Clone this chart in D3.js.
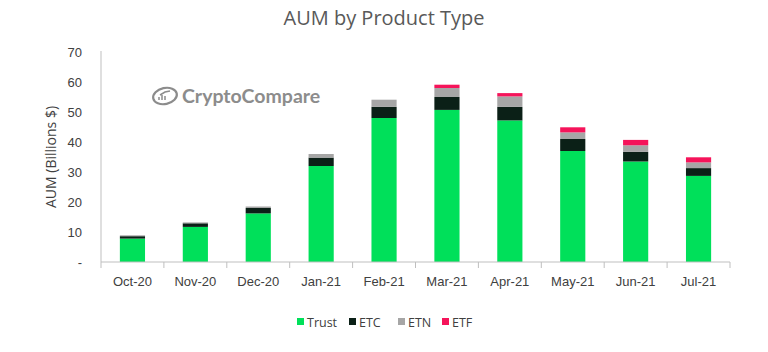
<!DOCTYPE html>
<style>
  body { margin: 0; background: #fff; font-family: "Open Sans", "Noto Sans", sans-serif; }
  svg { display: block; }
  .title { fill: #595959; font-size: 20px; }
  .tick text { fill: #404040; font-size: 13px; }
  .legend text { fill: #404040; font-size: 12.5px; }
  .ylabel { fill: #404040; font-size: 14px; }
</style>
<body>
</body>
<script src="https://cdn.jsdelivr.net/npm/d3@7"></script>
<script>
  const w = 768, h = 352;
  const l = 101, r = 730, t = 52, b = 262;

  const months = ['Oct-20', 'Nov-20', 'Dec-20', 'Jan-21', 'Feb-21', 'Mar-21', 'Apr-21', 'May-21', 'Jun-21', 'Jul-21'];
  const trust = [7.8, 11.7, 16.2, 32.0, 48.0, 50.7, 47.2, 37.0, 33.5, 28.7];
  const etc = [0.8, 1.2, 1.8, 2.8, 3.7, 4.3, 4.5, 4.0, 3.2, 2.6];
  const etn = [0.3, 0.3, 0.5, 1.2, 2.4, 3.0, 3.5, 2.2, 2.2, 1.9];
  const etf = [0, 0, 0, 0, 0, 1.1, 1.1, 1.7, 1.8, 1.7];
  const series = ['Trust', 'ETC', 'ETN', 'ETF'];
  const colors = ['#00e05a', '#0b2017', '#a6a6a6', '#f5145a'];
  const yTicks = [0, 10, 20, 30, 40, 50, 60, 70];

  const rows = months.map((m, i) => ({month: m, Trust: trust[i], ETC: etc[i], ETN: etn[i], ETF: etf[i]}));
  const stacked = d3.stack().keys(series)(rows);

  const svg = d3.select('body').append('svg').attr('width', w).attr('height', h);

  const x = d3.scaleBand().domain(months).range([l, r]).paddingInner(0.6).paddingOuter(0.3);
  const xb = d3.scaleBand().domain(months).range([l, r]);
  const y = d3.scaleLinear().domain([0, 70]).range([b, t]);
  const color = d3.scaleOrdinal().domain(series).range(colors);

  svg.append('text').attr('class', 'title')
    .attr('x', w / 2).attr('y', 25).attr('text-anchor', 'middle')
    .text('AUM by Product Type');

  // watermark
  const wm = svg.append('g').attr('transform', 'translate(152, 96)');
  wm.append('ellipse').attr('cx', 13).attr('cy', 0).attr('rx', 12).attr('ry', 8)
    .attr('fill', 'none').attr('stroke', '#8c8c8c').attr('stroke-width', 2.2)
    .attr('transform', 'rotate(-12 13 0)');
  wm.append('path').attr('d', 'M7,4 L7,1 M10,4 L10,-1 M13,4 L13,0 M8,-1 L13,-4 L18,-5')
    .attr('fill', 'none').attr('stroke', '#8c8c8c').attr('stroke-width', 1.5);
  wm.append('text').attr('x', 30).attr('y', 7)
    .attr('fill', '#8c8c8c').attr('font-size', 19.5).attr('font-weight', 'bold')
    .attr('font-family', 'Lato, "Open Sans", sans-serif')
    .text('CryptoCompare');

  // bars
  svg.append('g').selectAll('g')
    .data(stacked)
    .join('g')
    .attr('fill', d => color(d.key))
    .selectAll('rect')
    .data(d => d)
    .join('rect')
    .attr('x', d => x(d.data.month))
    .attr('width', x.bandwidth())
    .attr('y', d => y(d[1]))
    .attr('height', d => y(d[0]) - y(d[1]));

  // y axis
  const ya = svg.append('g')
    .attr('transform', `translate(${l}, 0)`)
    .call(d3.axisLeft(y).tickValues(yTicks).tickSize(0).tickPadding(19)
      .tickFormat(d => d === 0 ? '-' : d));
  ya.select('.domain').attr('stroke', '#bfbfbf').attr('d', `M0,${t - 1}V${b}`);

  // x axis
  const xa = svg.append('g')
    .attr('transform', `translate(0, ${b})`)
    .call(d3.axisBottom(x).tickSize(0).tickPadding(15));
  xa.select('.domain').attr('stroke', '#bfbfbf').attr('d', `M${l},0H${r}`);
  xa.append('g').selectAll('line')
    .data(months.concat(['end']))
    .join('line')
    .attr('x1', (d, i) => i < months.length ? xb(d) : r)
    .attr('x2', (d, i) => i < months.length ? xb(d) : r)
    .attr('y1', 0).attr('y2', 6)
    .attr('stroke', '#bfbfbf');

  svg.append('text').attr('class', 'ylabel')
    .attr('transform', `translate(56, ${(t + b) / 2}) rotate(-90)`)
    .attr('text-anchor', 'middle')
    .text('AUM (Billions $)');

  // legend
  const legendX = [297, 349, 398, 442];
  const lg = svg.append('g').attr('class', 'legend')
    .selectAll('g')
    .data(series)
    .join('g')
    .attr('transform', (d, i) => `translate(${legendX[i]}, 322)`);
  lg.append('rect').attr('x', 0).attr('y', -4).attr('width', 7).attr('height', 7)
    .attr('fill', d => color(d));
  lg.append('text').attr('x', 10).attr('y', 4.5).text(d => d);
</script>
